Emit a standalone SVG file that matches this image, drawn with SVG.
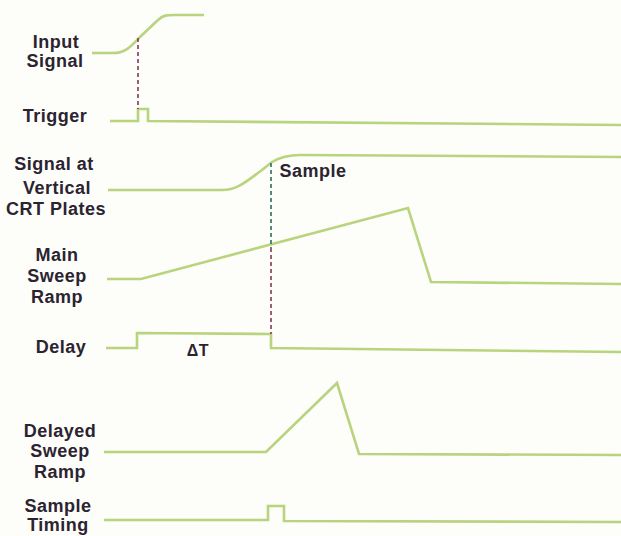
<svg xmlns="http://www.w3.org/2000/svg" width="621" height="536" viewBox="0 0 621 536">
<style>
.bg{fill:#fdfdfa}
.w{fill:none;stroke:#b9d47e;stroke-width:2.6;stroke-linejoin:miter;stroke-linecap:butt}
.t{font-family:"Liberation Sans",Arial,sans-serif;font-weight:bold;font-size:18px;letter-spacing:0.5px;fill:#2b2430;text-anchor:middle}
.d{fill:none;stroke-width:1.6;stroke-dasharray:4 3}
.p{stroke:#8a3558}
.g{stroke:#2e6b5e}
</style>
<rect class="bg" x="0" y="0" width="621" height="536"/>
<g id="input-signal">
<path class="w" d="M92,53 H113 C126,53 131,46 141,36 L158,20 C163,15 167,15 174,15 H204"/>
<text class="t" x="56" y="48">Input</text>
<text class="t" x="55" y="67">Signal</text>
</g>
<g id="trigger">
<path class="w" d="M110,121 H138 V109 H148 V121 L621,125"/>
<text class="t" x="55" y="122">Trigger</text>
</g>
<g id="signal-crt">
<path class="w" d="M108,190 H222 C238,190 248,180 262,170 L272,162 C282,156 290,155 300,155 L621,157"/>
<text class="t" x="54" y="170">Signal at</text>
<text class="t" x="57" y="194">Vertical</text>
<text class="t" x="56" y="215">CRT Plates</text>
<text class="t" x="313" y="177">Sample</text>
</g>
<g id="main-sweep">
<path class="w" d="M107,279 L141,279 L408,208 L431,282 L621,284"/>
<text class="t" x="57" y="261">Main</text>
<text class="t" x="57" y="282">Sweep</text>
<text class="t" x="57" y="303">Ramp</text>
</g>
<g id="delay">
<path class="w" d="M106,348 H137 V333 L271,334 V348 L621,352"/>
<text class="t" x="61" y="353">Delay</text>
<text class="t" x="198" y="356" style="font-size:16px">ΔT</text>
</g>
<g id="delayed-sweep">
<path class="w" d="M104,452 L266,452 L337,383 L359,454 L621,455"/>
<text class="t" x="60" y="437">Delayed</text>
<text class="t" x="60" y="457">Sweep</text>
<text class="t" x="60" y="478">Ramp</text>
</g>
<g id="sample-timing">
<path class="w" d="M104,520 L268,520 V506 H284 V521 L621,522"/>
<text class="t" x="58" y="512">Sample</text>
<text class="t" x="58" y="531">Timing</text>
</g>
<g id="connectors">
<line class="d p" x1="138" y1="38" x2="138" y2="109"/>
<line class="d g" x1="271" y1="163" x2="271" y2="248"/>
<line class="d p" x1="271" y1="248" x2="271" y2="334"/>
</g>
</svg>
